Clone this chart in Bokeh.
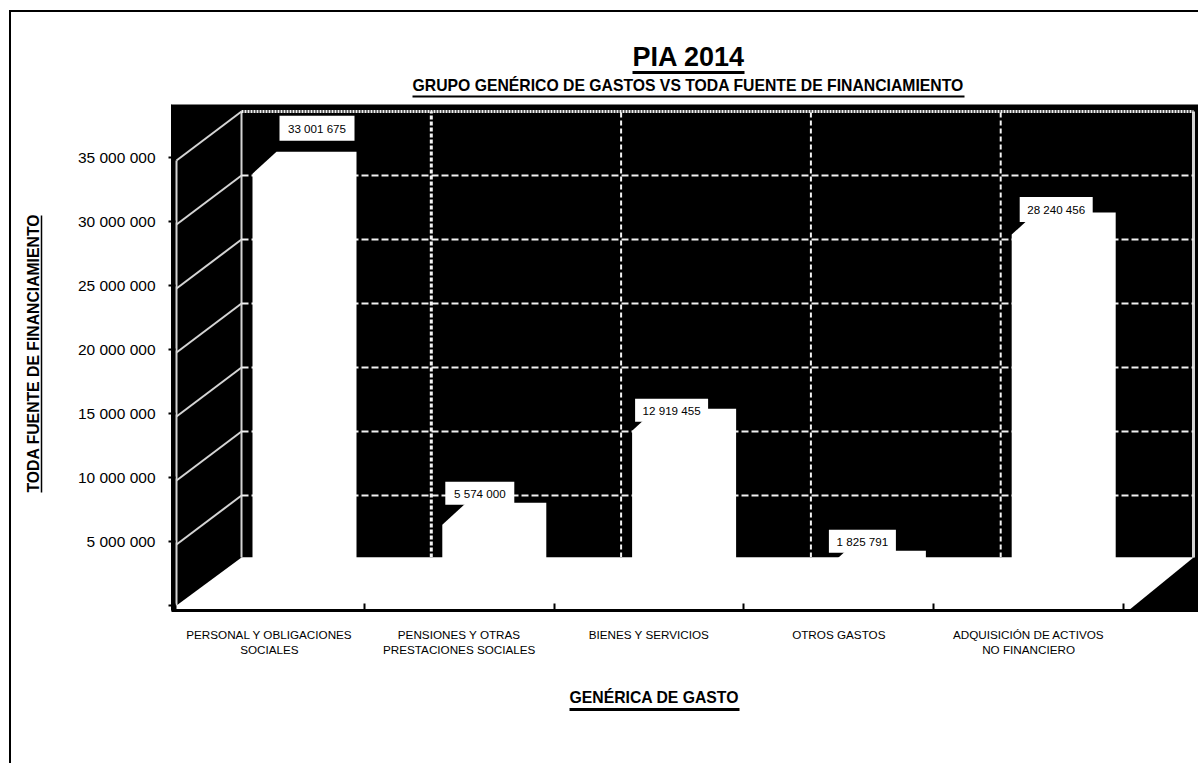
from bokeh.embed import file_html
from bokeh.resources import INLINE
from bokeh.plotting import figure
from bokeh.models import FixedTicker, Title, LinearAxis
from bokeh.core.properties import value

# ---- data ----
categories = ["PERSONAL Y OBLIGACIONES\nSOCIALES", "PENSIONES Y OTRAS\nPRESTACIONES SOCIALES",
              "BIENES Y SERVICIOS", "OTROS GASTOS", "ADQUISICIÓN DE ACTIVOS\nNO FINANCIERO"]
values = [33001675, 5574000, 12919455, 1825791, 28240456]
value_labels = ["33 001 675", "5 574 000", "12 919 455", "1 825 791", "28 240 456"]
y_ticks = [0, 5000000, 10000000, 15000000, 20000000, 25000000, 30000000, 35000000]
y_tick_labels = ["", "5 000 000", "10 000 000", "15 000 000", "20 000 000", "25 000 000", "30 000 000", "35 000 000"]

# ---- layout (pixels on the scale of the axes) ----
FONT = "Liberation Sans"
PX_CAT = 189.8            # px per category
PX_M = 12.8 / 1e6         # px per unit of value
px = lambda n: n / PX_CAT           # horizontal px -> category units
py = lambda n: n / PX_M             # vertical px -> value units
page_x = lambda x: px(x - 174)      # page position -> category units
page_y = lambda y: py(605 - y)      # page position -> value units
DEPTH_X, DEPTH_Y, GRID_Y = px(65), py(48), py(46)   # wall depth
FRONT_DROP = py(3)
n = len(categories)

p = figure(width=1189, height=753, output_backend="svg", toolbar_location=None,
           x_range=(px(-3), px(1024)), y_range=(py(-5), py(501)),
           min_border_left=160, min_border_right=2, min_border_top=92, min_border_bottom=155,
           margin=(10, 0, 0, 9),
           styles={"border-left": "2px solid black", "border-top": "2px solid black"},
           background_fill_color="black", border_fill_color="white", outline_line_color=None)
p.grid.visible = False

# axes
yax = p.yaxis[0]
yax.ticker = FixedTicker(ticks=y_ticks)
yax.major_label_overrides = dict(zip(y_ticks, y_tick_labels))
yax.major_label_text_font = FONT
yax.major_label_text_font_size = "15.5px"
yax.major_label_text_color = "black"
yax.major_label_standoff = 13
yax.major_tick_in = 4
yax.major_tick_out = 3
yax.major_tick_line_color = "black"
yax.major_tick_line_width = 2
yax.minor_tick_line_color = None
yax.axis_line_color = "black"

xax = p.xaxis[0]
centers = [i + 0.5 for i in range(n)]
xax.ticker = FixedTicker(ticks=centers, minor_ticks=list(range(n + 1)))
xax.major_label_overrides = dict(zip(centers, categories))
xax.major_label_text_font = FONT
xax.major_label_text_font_size = "11.7px"
xax.major_label_text_color = "black"
xax.major_label_standoff = 17
xax.major_tick_in = 0
xax.major_tick_out = 0
xax.minor_tick_in = 7
xax.minor_tick_out = 0
xax.minor_tick_line_color = "black"
xax.minor_tick_line_width = 2
xax.axis_line_color = "black"
xax.axis_line_width = 3

# blank axes used as spacers / underlines of the titles
def spacer(side, size):
    tick = 1e7 if side == "left" else 1
    ax = LinearAxis(ticker=FixedTicker(ticks=[tick]), major_tick_out=size, major_tick_in=0,
                    axis_line_color=None, major_tick_line_color=None, minor_tick_line_color=None,
                    major_label_overrides={tick: ""}, major_label_text_font_size="1px",
                    major_label_text_color=None, major_label_standoff=0)
    p.add_layout(ax, side)
def underline(side, a, b, width):
    ax = LinearAxis(ticker=FixedTicker(ticks=[]), bounds=(a, b), major_tick_out=0, major_tick_in=0,
                    axis_line_color="black", axis_line_width=width,
                    major_tick_line_color=None, minor_tick_line_color=None,
                    major_label_text_color=None, major_label_standoff=0)
    p.add_layout(ax, side)
def title(side, text, size, start, standoff):
    p.add_layout(Title(text=text, align="left", offset=start, text_font=FONT, text_font_size=size,
                       text_font_style="bold", text_color="black", standoff=standoff), side)

spacer("above", 8)
underline("above", page_x(412), page_x(964), 2)
title("above", "GRUPO GENÉRICO DE GASTOS VS TODA FUENTE DE FINANCIAMIENTO", "15.75px", 241, 5)
underline("above", page_x(632), page_x(744), 3)
title("above", "PIA 2014", "27px", 461, 1)

spacer("below", 24)
title("below", "GENÉRICA DE GASTO", "15.75px", 398, 7)
underline("below", page_x(569), page_x(739), 3)

spacer("left", 33)
underline("left", page_y(492), page_y(215), 1.5)
title("left", "TODA FUENTE DE FINANCIAMIENTO", "15.75px", 118, 0)

# wall
WALL = "#d4d4d4"
top = y_ticks[-1]
x_front = px(2)
x_back = x_front + DEPTH_X
for t in y_ticks[1:]:
    p.line([x_front, x_back], [t - FRONT_DROP, t + GRID_Y], line_color=WALL, line_width=2)
p.line([x_front, x_front], [0, top - FRONT_DROP], line_color=WALL, line_width=2)
p.line([x_back, x_back], [DEPTH_Y, top + GRID_Y], line_color=WALL, line_width=2)
x_right = n + px(70)
p.line([x_right, x_right], [DEPTH_Y, top + GRID_Y], line_color=WALL, line_width=3)

# back-wall grid
for t in y_ticks[1:-1]:
    p.line([x_back, x_right], [t + GRID_Y, t + GRID_Y], line_color="#f0f0f0", line_width=2, line_dash="7 3")
p.line([x_back, x_right], [top + GRID_Y, top + GRID_Y], line_color="#f0f0f0", line_width=3, line_dash="2 1")
for i in range(1, n):
    p.line([i + x_back, i + x_back], [DEPTH_Y, top + GRID_Y],
           line_color="#f4f4f4", line_width=3 if i == 1 else 2, line_dash="5 3" if i > 1 else "4 2")

# floor
p.patch([x_front, x_front, x_back, x_right, x_right - DEPTH_X, x_front],
        [py(-5), 0, DEPTH_Y, DEPTH_Y, py(-5), py(-5)], fill_color="white", line_color=None)
p.line([x_back, x_right], [DEPTH_Y, DEPTH_Y], line_color="#bdbdbd", line_width=1)

# bars
BAR_LEFT, BAR_W = px(78), px(104)
CH_X, CH_Y = px(24), py(22)
BASE = py(31.4)
bar_lefts = []
bar_tops = []
for i, v in enumerate(values):
    x0 = i + BAR_LEFT
    x1 = x0 + BAR_W
    ytop = v + BASE
    bar_lefts.append(x0)
    bar_tops.append(ytop)
    p.patch([x0, x0, x0 + CH_X, x1, x1],
            [0, ytop - CH_Y, ytop, ytop, 0], fill_color="white", line_color=None)

# value labels: white boxes, nudged by hand from each bar's corner (px)
label_nudge_x = [64.5, 37.5, 39.5, 40.5, 44.5]
label_nudge_y = [23.5, 9.5, -1.5, 9.5, 3]
box_w = [75, 69, 73, 67, 73]
box_h = [25, 23, 23, 23, 25]
lx = [a + px(d) for a, d in zip(bar_lefts, label_nudge_x)]
ly = [a + py(d) for a, d in zip(bar_tops, label_nudge_y)]
p.rect(lx, ly, width=box_w, height=box_h, width_units="screen", height_units="screen",
       fill_color="white", line_color=None)
p.text(lx, ly, text=value_labels, text_align="center", text_baseline="middle",
       text_font=value(FONT), text_font_size="11.6px", text_color="black")

open("out.html", "w").write(file_html(p, INLINE))
